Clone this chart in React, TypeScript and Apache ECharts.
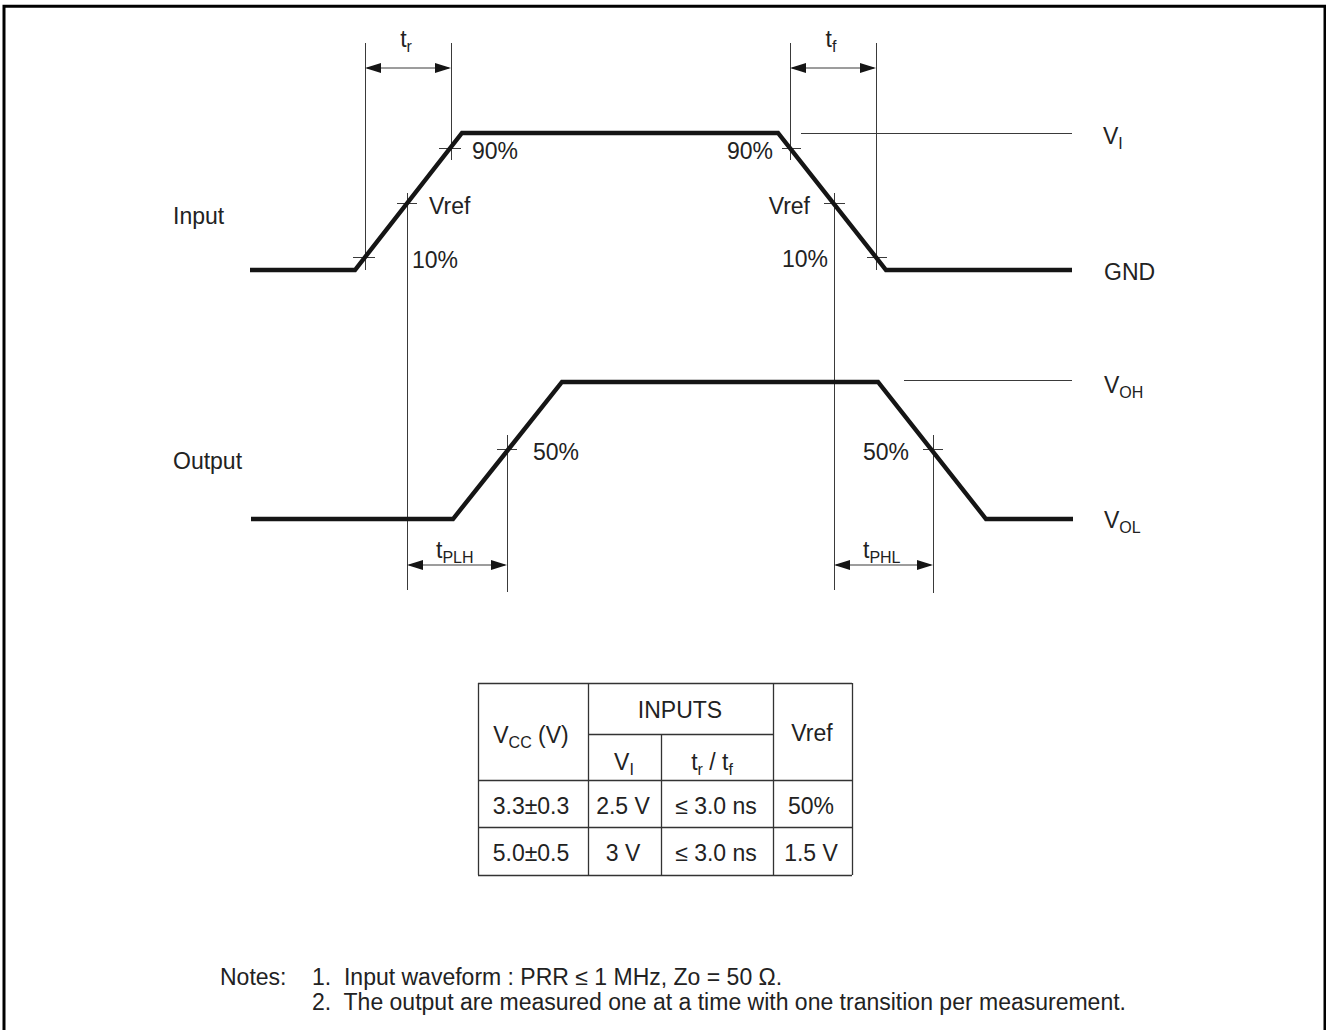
import React, { useEffect, useRef } from 'react';
import * as echarts from 'echarts';

const W = 1326;
const H = 1030;
const FONT = '"Liberation Sans", Arial, Helvetica, sans-serif';
const INK = '#151515';
const TEXT = '#222222';
const THIN = '#3a3a3a';

// Waveform vertices (time position, level position)
const inputX = [250, 355, 462, 778, 886, 1072];
const inputY = [270, 270, 133, 133, 270, 270];
const outputX = [251, 453, 562, 878, 986, 1073];
const outputY = [519, 519, 382, 382, 519, 519];

// Measurement reference lines [x1, y1, x2, y2]
const refLines = [
  [365, 43, 365, 270],
  [451, 43, 451, 160],
  [407, 193, 407, 590],
  [790, 43, 790, 160],
  [876, 43, 876, 270],
  [834, 193, 834, 590],
  [507, 435, 507, 592],
  [933, 435, 933, 593],
];
// Small crossing tick marks [x1, y1, x2, y2]
const tickMarks = [
  [353, 257, 375, 257],
  [439, 148, 461, 148],
  [397, 203, 417, 203],
  [782, 148, 801, 148],
  [824, 203, 845, 203],
  [867, 257, 887, 257],
  [497, 449, 517, 449],
  [923, 449, 943, 449],
];
// Level lines V_I and V_OH [x1, y1, x2, y2]
const levelLines = [
  [801, 133, 1072, 133],
  [904, 380, 1072, 380],
];
// Double arrows [xFrom, xTo, y]
const arrows = [
  [365, 451, 68],
  [790, 876, 68],
  [407, 507, 565],
  [834, 933, 565],
];

// Table grid lines [x1, y1, x2, y2]
const tableLines = [
  [478, 683, 852, 683],
  [478, 875, 852, 875],
  [478, 683, 478, 875],
  [852, 683, 852, 875],
  [588, 683, 588, 875],
  [773, 683, 773, 875],
  [661, 734, 661, 875],
  [588, 734, 773, 734],
  [478, 780, 852, 780],
  [478, 827, 852, 827],
];

type Lbl = { t: string; x: number; y: number; a?: string };

const diagramLabels: Lbl[] = [
  { t: 'Input', x: 173, y: 216, a: 'left' },
  { t: 'Output', x: 173, y: 461, a: 'left' },
  { t: '{m|t}{s|r}', x: 406, y: 39, a: 'center' },
  { t: '{m|t}{s|f}', x: 831, y: 39, a: 'center' },
  { t: '90%', x: 472, y: 151, a: 'left' },
  { t: 'Vref', x: 429, y: 206, a: 'left' },
  { t: '10%', x: 412, y: 260, a: 'left' },
  { t: '90%', x: 773, y: 151, a: 'right' },
  { t: 'Vref', x: 810, y: 206, a: 'right' },
  { t: '10%', x: 828, y: 259, a: 'right' },
  { t: '{m|V}{s|I}', x: 1103, y: 136, a: 'left' },
  { t: 'GND', x: 1104, y: 272, a: 'left' },
  { t: '50%', x: 533, y: 452, a: 'left' },
  { t: '50%', x: 909, y: 452, a: 'right' },
  { t: '{m|V}{s|OH}', x: 1104, y: 385, a: 'left' },
  { t: '{m|V}{s|OL}', x: 1104, y: 520, a: 'left' },
  { t: '{m|t}{s|PLH}', x: 436, y: 550, a: 'left' },
  { t: '{m|t}{s|PHL}', x: 863, y: 550, a: 'left' },
];

const tableLabels: Lbl[] = [
  { t: '{m|V}{s|CC}{m| (V)}', x: 531, y: 735 },
  { t: 'INPUTS', x: 680, y: 710 },
  { t: 'Vref', x: 812, y: 733 },
  { t: '{m|V}{s|I}', x: 624, y: 762 },
  { t: '{m|t}{s|r}{m| / t}{s|f}', x: 712, y: 762 },
  { t: '3.3±0.3', x: 531, y: 806 },
  { t: '2.5 V', x: 623, y: 806 },
  { t: '≤ 3.0 ns', x: 716, y: 806 },
  { t: '50%', x: 811, y: 806 },
  { t: '5.0±0.5', x: 531, y: 853 },
  { t: '3 V', x: 623, y: 853 },
  { t: '≤ 3.0 ns', x: 716, y: 853 },
  { t: '1.5 V', x: 811, y: 853 },
];

const noteLabels: Lbl[] = [
  { t: 'Notes:', x: 220, y: 977, a: 'left' },
  { t: '1.  Input waveform : PRR ≤ 1 MHz, Zo = 50 Ω.', x: 312, y: 977, a: 'left' },
  { t: '2.  The output are measured one at a time with one transition per measurement.', x: 312, y: 1002, a: 'left' },
];

const RICH = {
  m: { fontSize: 23, fontFamily: FONT, fill: TEXT, lineHeight: 30 },
  s: { fontSize: 16, fontFamily: FONT, fill: TEXT, lineHeight: 16, padding: [14, 0, 0, 0] },
};

function segSeries(segs: number[][], color: string, width: number) {
  return {
    type: 'lines',
    coordinateSystem: 'cartesian2d',
    silent: true,
    polyline: false,
    lineStyle: { color, width, opacity: 1, type: 'solid' },
    data: segs.map((s) => ({ coords: [[s[0], s[1]], [s[2], s[3]]] })),
    z: 3,
  };
}

function textSeries(items: Lbl[], sx: number) {
  return {
    type: 'custom',
    coordinateSystem: 'cartesian2d',
    silent: true,
    clip: false,
    data: items.map((d) => [d.x, d.y]),
    encode: { x: 0, y: 1 },
    z: 5,
    renderItem: (params: any, api: any) => {
      const d = items[params.dataIndex];
      const p = api.coord([api.value(0), api.value(1)]);
      return {
        type: 'text',
        x: p[0],
        y: p[1],
        scaleX: sx,
        style: {
          text: d.t,
          fontSize: 23,
          fontFamily: FONT,
          fill: TEXT,
          align: d.a || 'center',
          verticalAlign: 'middle',
          rich: RICH,
        },
      };
    },
  };
}

function waveSeries(xs: number[], ys: number[]) {
  return {
    type: 'line',
    silent: true,
    clip: false,
    symbol: 'none',
    data: xs.map((x, i) => [x, ys[i]]),
    lineStyle: { color: INK, width: 4.4, join: 'miter', cap: 'butt' },
    z: 4,
  };
}

export default function App() {
  const ref = useRef<HTMLDivElement>(null);
  useEffect(() => {
    if (!ref.current) return;
    const chart = echarts.init(ref.current, null, { renderer: 'svg' });
    const option: any = {
      animation: false,
      backgroundColor: '#ffffff',
      grid: { left: 0, right: 0, top: 0, bottom: 0 },
      xAxis: { type: 'value', min: 0, max: W, show: false },
      yAxis: { type: 'value', min: 0, max: H, inverse: true, show: false },
      graphic: [
        {
          type: 'rect',
          shape: { x: 4, y: 6.3, width: 1321, height: 1040 },
          style: { fill: 'none', stroke: '#000', lineWidth: 3 },
          silent: true,
          z: 10,
        },
      ],
      series: [
        segSeries(refLines, THIN, 1),
        segSeries(tickMarks, THIN, 1),
        segSeries(levelLines, THIN, 1),
        segSeries(tableLines, '#333', 1.3),
        waveSeries(inputX, inputY),
        waveSeries(outputX, outputY),
        {
          type: 'custom',
          coordinateSystem: 'cartesian2d',
          silent: true,
          clip: false,
          data: arrows.map((a) => [a[0], a[1], a[2]]),
          encode: { x: [0, 1], y: 2 },
          z: 4,
          renderItem: (params: any, api: any) => {
            const a = api.coord([api.value(0), api.value(2)]);
            const b = api.coord([api.value(1), api.value(2)]);
            const L = 16;
            const hw = 5;
            return {
              type: 'group',
              children: [
                { type: 'line', shape: { x1: a[0] + 2, y1: a[1], x2: b[0] - 2, y2: b[1] }, style: { stroke: THIN, lineWidth: 1 } },
                { type: 'polygon', shape: { points: [[a[0], a[1]], [a[0] + L, a[1] - hw], [a[0] + L, a[1] + hw]] }, style: { fill: INK } },
                { type: 'polygon', shape: { points: [[b[0], b[1]], [b[0] - L, b[1] - hw], [b[0] - L, b[1] + hw]] }, style: { fill: INK } },
              ],
            };
          },
        },
        textSeries(diagramLabels, 1),
        textSeries(tableLabels, 1),
        textSeries(noteLabels, 1),
      ],
    };
    chart.setOption(option);
    return () => chart.dispose();
  }, []);
  return <div ref={ref} style={{ position: 'fixed', left: 0, top: 0, width: W, height: H }} />;
}
